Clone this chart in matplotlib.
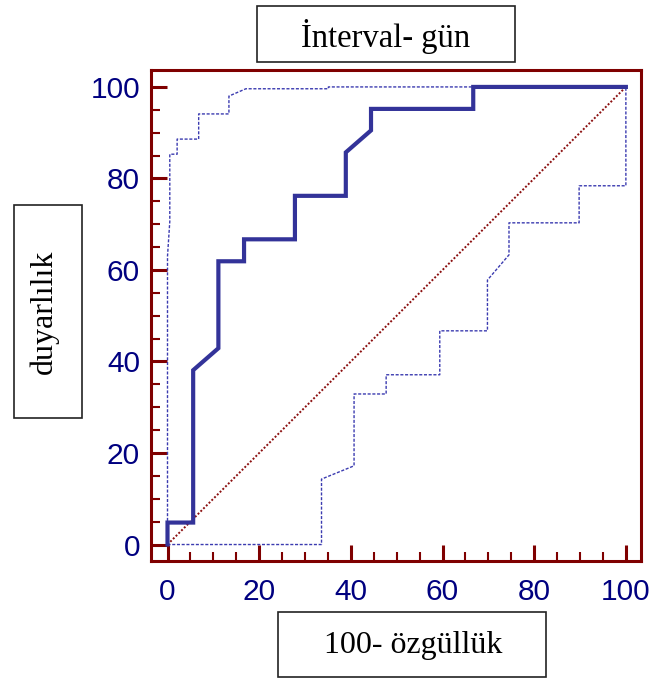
import matplotlib
matplotlib.use("Agg")
import matplotlib.pyplot as plt
from matplotlib.patches import Rectangle
from matplotlib.ticker import MultipleLocator

# ROC curve (100 - specificity, sensitivity)
roc_x = [0, 0, 5.6, 5.6, 11.1, 11.1, 16.7, 16.7, 27.8, 27.8, 38.9, 38.9, 44.4, 44.4, 66.7, 66.7, 100]
roc_y = [0, 4.8, 4.8, 38.1, 42.9, 61.9, 61.9, 66.7, 66.7, 76.2, 76.2, 85.7, 90.5, 95.2, 95.2, 100, 100]

# upper confidence bound
up_x = [0, 0, 0.5, 0.5, 2.1, 2.1, 6.8, 6.8, 13.4, 13.4, 17.1, 35.1, 35.1, 100]
up_y = [0, 63, 70.6, 85.3, 85.3, 88.6, 88.6, 94.1, 94.1, 98.0, 99.6, 99.6, 100, 100]

# lower confidence bound
lo_x = [0, 33.6, 33.6, 40.7, 40.7, 47.7, 47.7, 59.4, 59.4, 69.8, 69.8, 74.5, 74.5, 89.8, 89.8, 100, 100]
lo_y = [0, 0, 14.3, 17.2, 32.9, 32.9, 37.1, 37.1, 46.7, 46.7, 57.8, 63.3, 70.3, 70.3, 78.4, 78.4, 100]

ticks = [0, 20, 40, 60, 80, 100]
title = "İnterval- gün"
xlabel = "100- özgüllük"
ylabel = "duyarlılık"

W, H = 656, 678
red = "#7f0000"
navy = "#000080"
blue = "#333399"

fig = plt.figure(figsize=(W / 100, H / 100), dpi=100)
ax = fig.add_axes([151 / W, 1 - 561 / H, (641 - 151) / W, (561 - 70) / H])

ax.plot([0, 100], [0, 100], color="#8b1010", lw=1.4, linestyle=(0, (1, 1)), zorder=2)
ax.plot(up_x, up_y, color="#3b3bb0", lw=1.0, linestyle=(0, (2.2, 1.2)), zorder=3)
ax.plot(lo_x, lo_y, color="#3b3bb0", lw=1.0, linestyle=(0, (2.2, 1.2)), zorder=3)
ax.plot(roc_x, roc_y, color=blue, lw=3.0, solid_joinstyle="miter", zorder=4)

ax.set_xlim(-3.6, 103.3)
ax.set_ylim(-3.6, 103.7)
ax.set_xticks(ticks)
ax.set_yticks(ticks)
ax.xaxis.set_minor_locator(MultipleLocator(5))
ax.yaxis.set_minor_locator(MultipleLocator(5))

for s in ax.spines.values():
    s.set_color(red)
    s.set_linewidth(2.2)

ax.tick_params(which="major", direction="in", length=11.5, width=2.2, color=red,
               labelcolor=navy, labelsize=21.5)
ax.tick_params(which="minor", direction="in", length=6.5, width=1.5, color=red)
ax.tick_params(axis="x", which="major", pad=12)
ax.tick_params(axis="y", which="major", pad=8)
for lab in ax.get_xticklabels() + ax.get_yticklabels():
    lab.set_family("Liberation Sans")


def box(x0, y0, x1, y1):
    r = Rectangle((x0 / W, 1 - y1 / H), (x1 - x0) / W, (y1 - y0) / H,
                  transform=fig.transFigure, fill=False, edgecolor="#222222", lw=1.2)
    fig.add_artist(r)


serif = "Liberation Serif"
box(257, 6, 515, 62)
fig.text(386 / W, 1 - 47 / H, title, family=serif, fontsize=23.5, ha="center", va="baseline")

box(278, 612, 546, 677)
fig.text(413 / W, 1 - 652.5 / H, xlabel, family=serif, fontsize=23, ha="center", va="baseline")

box(14, 205, 82, 418)
fig.text(51.7 / W, 1 - 311.5 / H, ylabel, family=serif, fontsize=23, rotation=90,
         rotation_mode="anchor", ha="center", va="baseline")

fig.savefig("out.png", dpi=100)
